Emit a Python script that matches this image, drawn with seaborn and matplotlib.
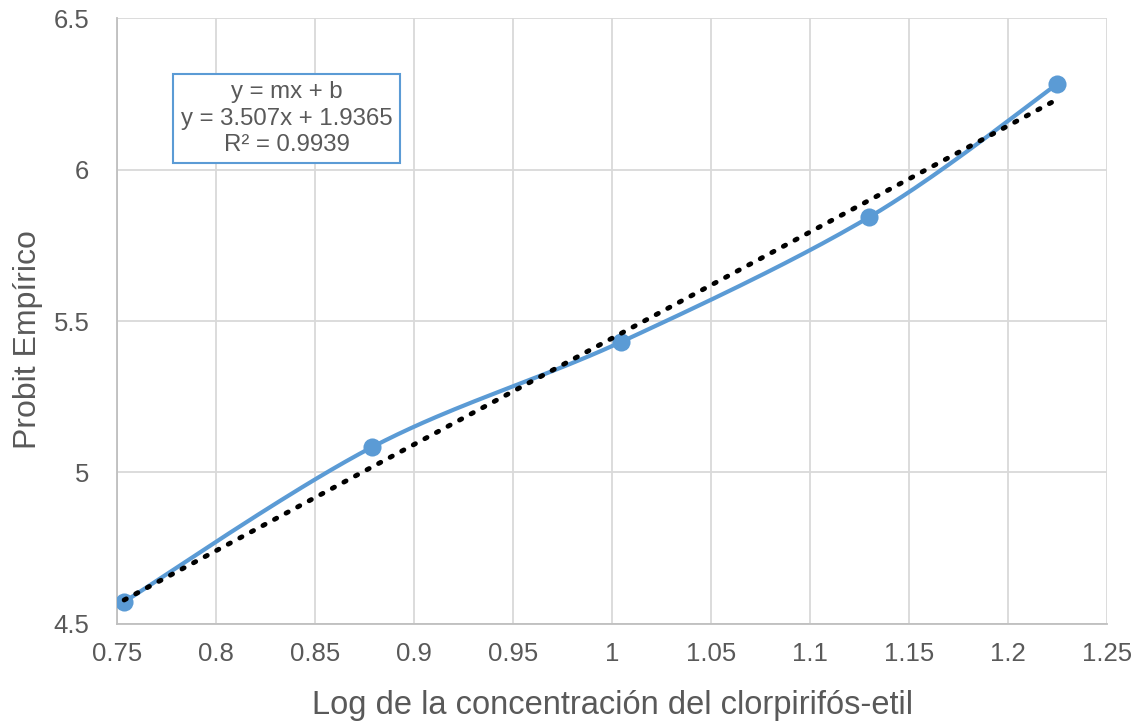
import numpy as np
import matplotlib
matplotlib.use("Agg")
import matplotlib.pyplot as plt
import seaborn as sns

# Log concentration vs. empirical probit
log_conc = [0.7535, 0.8788, 1.0045, 1.1298, 1.2247]
probit = [4.573, 5.084, 5.431, 5.843, 6.282]

# Linear fit shown in the legend box
slope = 3.507
intercept = 1.9365
r2 = 0.9939

x_ticks = [0.75, 0.8, 0.85, 0.9, 0.95, 1, 1.05, 1.1, 1.15, 1.2, 1.25]
y_ticks = [4.5, 5, 5.5, 6, 6.5]


def smooth_curve(xs, ys, n=40):
    """Bezier smoothing through the points (Catmull-Rom style control points)."""
    xs = np.asarray(xs, float)
    ys = np.asarray(ys, float)
    pts = np.column_stack([xs, ys])
    out = []
    m = len(pts)
    for i in range(m - 1):
        p0 = pts[i - 1] if i > 0 else pts[i]
        p1 = pts[i]
        p2 = pts[i + 1]
        p3 = pts[i + 2] if i + 2 < m else pts[i + 1]
        c1 = p1 + (p2 - p0) / 6.0
        c2 = p2 - (p3 - p1) / 6.0
        t = np.linspace(0, 1, n)[:, None]
        seg = ((1 - t) ** 3) * p1 + 3 * ((1 - t) ** 2) * t * c1 + 3 * (1 - t) * t ** 2 * c2 + t ** 3 * p2
        out.append(seg if i == 0 else seg[1:])
    arr = np.vstack(out)
    return arr[:, 0], arr[:, 1]


sns.set_theme(style="whitegrid")
plt.rcParams["font.family"] = ["Liberation Sans", "DejaVu Sans"]

fig, ax = plt.subplots(figsize=(11.38, 7.23), dpi=100)
fig.subplots_adjust(left=0.103, right=0.973, top=0.975, bottom=0.137)

blue = "#5B9BD5"
sx, sy = smooth_curve(log_conc, probit)
sns.lineplot(x=sx, y=sy, ax=ax, color=blue, linewidth=3, sort=False, zorder=3)
sns.scatterplot(x=log_conc, y=probit, ax=ax, color=blue, s=170, edgecolor=blue,
                linewidth=0, zorder=4)

fx = np.array([log_conc[0], log_conc[-1]])
ax.plot(fx, slope * fx + intercept, color="black", linestyle=(0, (0.5, 2.2)),
        linewidth=3.5, dash_capstyle="round", zorder=5)

ax.set_xlim(0.75, 1.25)
ax.set_ylim(4.5, 6.5)
ax.set_xticks(x_ticks)
ax.set_xticklabels([f"{v:g}" for v in x_ticks])
ax.set_yticks(y_ticks)
ax.set_yticklabels([f"{v:g}" for v in y_ticks])
ax.tick_params(axis="x", labelsize=18.5, colors="#595959", length=0, pad=13)
ax.tick_params(axis="y", labelsize=18.5, colors="#595959", length=0, pad=20)

ax.grid(True, color="#D9D9D9", linewidth=1.3)
ax.set_facecolor("white")
for side in ["top", "right"]:
    ax.spines[side].set_visible(False)
for side in ["left", "bottom"]:
    ax.spines[side].set_color("#BFBFBF")
    ax.spines[side].set_linewidth(1.3)

ax.set_xlabel("Log de la concentración del clorpirifós-etil", fontsize=23.5,
              color="#595959", labelpad=17)
ax.set_ylabel("Probit Empírico", fontsize=23, color="#595959",
              va="center", ha="center")
ax.yaxis.set_label_coords(-0.09, 0.469)

ax.text(0.171, 0.834,
        f"y = mx + b\ny = {slope}x + {intercept}\nR² = {r2}",
        transform=ax.transAxes, ha="center", va="center", fontsize=17.3,
        color="#595959", linespacing=1.25,
        bbox=dict(boxstyle="square,pad=0.3", facecolor="white",
                  edgecolor=blue, linewidth=1.5))

fig.savefig("out.png", dpi=100)
